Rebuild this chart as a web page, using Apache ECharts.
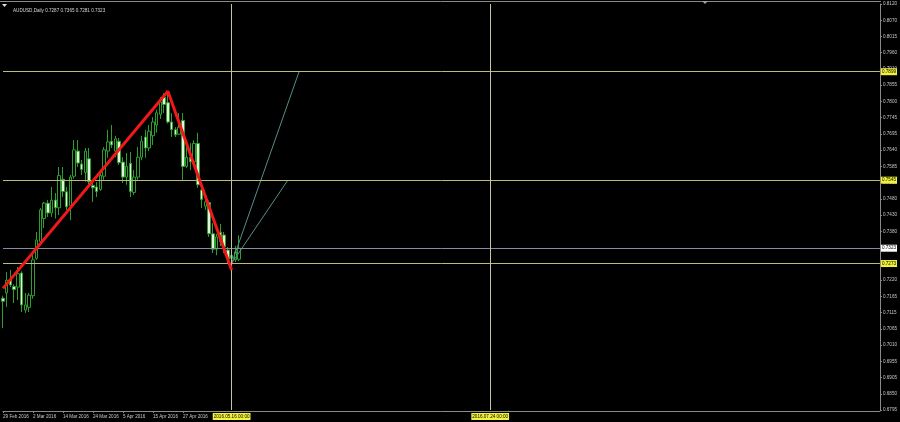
<!DOCTYPE html>
<html><head><meta charset="utf-8">
<script src="https://cdn.jsdelivr.net/npm/echarts/dist/echarts.min.js"></script>
<style>html,body{margin:0;padding:0;background:#000;}#c{width:900px;height:422px;}</style>
</head><body><div id="c"></div>
<script>
// ---- data ----
const dates = ['2016.02.19','2016.02.22','2016.02.23','2016.02.24','2016.02.25','2016.02.26','2016.02.29','2016.03.01','2016.03.02','2016.03.03',
 '2016.03.04','2016.03.07','2016.03.08','2016.03.09','2016.03.10','2016.03.11','2016.03.14','2016.03.15','2016.03.16','2016.03.17',
 '2016.03.18','2016.03.21','2016.03.22','2016.03.23','2016.03.24','2016.03.25','2016.03.28','2016.03.29','2016.03.30','2016.03.31',
 '2016.04.01','2016.04.04','2016.04.05','2016.04.06','2016.04.07','2016.04.08','2016.04.11','2016.04.12','2016.04.13','2016.04.14',
 '2016.04.15','2016.04.18','2016.04.19','2016.04.20','2016.04.21','2016.04.22','2016.04.25','2016.04.26','2016.04.27','2016.04.28',
 '2016.04.29','2016.05.02','2016.05.03','2016.05.04','2016.05.05','2016.05.06','2016.05.09','2016.05.10','2016.05.11','2016.05.12',
 '2016.05.13','2016.05.16','2016.05.17','2016.05.18'];
const open  = [0.7160,0.7177,0.7219,0.7198,0.7196,0.7242,0.7121,0.7130,0.7168,0.7290,
 0.7345,0.7420,0.7470,0.7438,0.7480,0.7455,0.7548,0.7507,0.7462,0.7558,
 0.7640,0.7598,0.7570,0.7615,0.7528,0.7523,0.7515,0.7558,0.7640,0.7672,
 0.7640,0.7672,0.7604,0.7555,0.7600,0.7505,0.7555,0.7620,0.7686,0.7650,
 0.7690,0.7725,0.7760,0.7815,0.7798,0.7735,0.7710,0.7695,0.7740,0.7590,
 0.7620,0.7605,0.7665,0.7513,0.7460,0.7472,0.7370,0.7320,0.7375,0.7366,
 0.7317,0.7290,0.7285,0.7287];
const high  = [0.7168,0.7245,0.7252,0.7205,0.7262,0.7248,0.7177,0.7177,0.7301,0.7376,
 0.7454,0.7474,0.7480,0.7523,0.7503,0.7588,0.7588,0.7523,0.7562,0.7676,
 0.7676,0.7611,0.7650,0.7650,0.7536,0.7539,0.7572,0.7653,0.7709,0.7725,
 0.7690,0.7683,0.7620,0.7634,0.7637,0.7578,0.7653,0.7690,0.7709,0.7725,
 0.7751,0.7775,0.7816,0.7829,0.7835,0.7764,0.7718,0.7764,0.7764,0.7660,
 0.7666,0.7675,0.7700,0.7529,0.7487,0.7478,0.7405,0.7370,0.7402,0.7376,
 0.7327,0.7320,0.7330,0.7365];
const low   = [0.7062,0.7131,0.7196,0.7144,0.7154,0.7115,0.7112,0.7115,0.7158,0.7285,
 0.7333,0.7389,0.7425,0.7425,0.7420,0.7431,0.7490,0.7448,0.7415,0.7550,
 0.7588,0.7562,0.7540,0.7530,0.7474,0.7490,0.7510,0.7546,0.7618,0.7650,
 0.7620,0.7595,0.7536,0.7530,0.7490,0.7497,0.7546,0.7610,0.7618,0.7640,
 0.7660,0.7700,0.7745,0.7764,0.7730,0.7686,0.7686,0.7692,0.7546,0.7585,
 0.7578,0.7600,0.7520,0.7454,0.7448,0.7360,0.7307,0.7300,0.7330,0.7307,
 0.7275,0.7252,0.7278,0.7281];
const close = [0.7150,0.7219,0.7203,0.7188,0.7240,0.7138,0.7138,0.7170,0.7285,0.7350,
 0.7448,0.7470,0.7438,0.7480,0.7455,0.7560,0.7508,0.7458,0.7555,0.7644,
 0.7601,0.7580,0.7640,0.7540,0.7520,0.7508,0.7560,0.7644,0.7670,0.7660,
 0.7680,0.7602,0.7555,0.7590,0.7508,0.7555,0.7620,0.7672,0.7650,0.7705,
 0.7735,0.7765,0.7800,0.7792,0.7735,0.7710,0.7693,0.7718,0.7590,0.7620,
 0.7605,0.7665,0.7530,0.7482,0.7474,0.7370,0.7320,0.7360,0.7345,0.7327,
 0.7288,0.7300,0.7311,0.7323];
// zigzag (bar index, price)
const zigzag = [[0,0.7192],[44,0.7835],[61,0.7252]];
// fan lines from the swing low level
const fanA = [[61,0.7273],[79,0.7899]];
const fanB = [[61,0.7273],[76,0.7545]];
// horizontal levels
const levels = [0.7899,0.7545,0.7273];
const bidPrice = 0.7323;
// vertical lines (bar index) and their labels
const vLines = [61,130];
const vLabels = ['2016.05.16 00:00','2016.07.24 00:00'];
// x tick labels
const xTickIdx = [0,8,16,24,32,40,48];
const xTickLabels = ['29 Feb 2016','2 Mar 2016','14 Mar 2016','24 Mar 2016','5 Apr 2016','15 Apr 2016','27 Apr 2016'];
// y tick labels (bottom to top)
const yTickLabels = ['0.6795','0.6850','0.6905','0.6955','0.7010','0.7065','0.7115','0.7165','0.7220','0.7270','0.7325',
 '0.7380','0.7430','0.7480','0.7535','0.7585','0.7640','0.7695','0.7745','0.7800','0.7855','0.7910','0.7960','0.8015','0.8070','0.8120'];
const yMin = 0.6795, yMax = 0.8120, yStep = 0.0053;
const totalSlots = 235;
const titleText = 'AUDUSD,Daily 0.7287 0.7365 0.7281 0.7323';

// ---- build ----
const cats = dates.concat(Array.from({length: totalSlots - dates.length}, (_, i) => 'f' + (i + 1)));
const ohlc = dates.map((d, i) => [open[i], close[i], low[i], high[i]]);
const FONT = 'Liberation Sans';
const AXC = '#8a8a8a';
const FS = 4.6;

const hLineData = levels.map(v => ({
  yAxis: v,
  lineStyle: {color: '#bcbc78', width: 1, type: 'solid'},
  label: {show: true, position: 'end', distance: 1, formatter: v.toFixed(4), color: '#000',
    backgroundColor: '#f2f23c', padding: [1, 1], fontSize: FS, fontFamily: FONT}
}));
hLineData.push({
  yAxis: bidPrice,
  lineStyle: {color: '#8a8aa0', width: 1, type: 'solid'},
  label: {show: true, position: 'end', distance: 1, formatter: bidPrice.toFixed(4), color: '#000',
    backgroundColor: '#ffffff', padding: [1, 1], fontSize: FS, fontFamily: FONT}
});
vLines.forEach((ix, k) => hLineData.push({
  xAxis: ix,
  lineStyle: {color: '#c4c4a4', width: 1, type: 'solid'},
  label: {show: true, position: 'start', distance: 3, formatter: vLabels[k], color: '#000',
    backgroundColor: '#f2f23c', padding: [1, 1], fontSize: FS, fontFamily: FONT}
}));

const chart = echarts.init(document.getElementById('c'), null, {renderer: 'canvas'});
chart.setOption({
  backgroundColor: '#000',
  animation: false,
  title: {text: titleText, left: 8, top: 3, textStyle: {color: '#d8d8d8', fontSize: FS, fontWeight: 'normal', fontFamily: FONT}},
  grid: {left: 0, right: 19, top: 4, bottom: 12},
  xAxis: {
    type: 'category', data: cats, boundaryGap: false, offset: 1,
    axisLine: {show: true, lineStyle: {color: AXC, width: 1}},
    axisTick: {show: true, length: 2, interval: (i) => xTickIdx.includes(i), lineStyle: {color: AXC}},
    axisLabel: {show: true, interval: (i) => xTickIdx.includes(i), align: 'left', margin: 3,
      formatter: (v, i) => { const k = xTickIdx.indexOf(i); return k >= 0 ? xTickLabels[k] : ''; },
      color: '#c8c8c8', fontSize: FS, fontFamily: FONT},
    splitLine: {show: false}
  },
  yAxis: {
    type: 'value', position: 'right', min: yMin, max: yMax, interval: yStep, scale: true,
    axisLine: {show: true, lineStyle: {color: AXC, width: 1}},
    axisTick: {show: true, length: 2, lineStyle: {color: AXC}},
    axisLabel: {show: true, margin: 3, color: '#c8c8c8', fontSize: FS, fontFamily: FONT,
      formatter: (v) => yTickLabels[Math.round((v - yMin) / yStep)] || ''},
    splitLine: {show: false}
  },
  series: [
    {
      type: 'candlestick', data: ohlc, barWidth: 3,
      itemStyle: {color: '#000000', color0: '#e4f2dc', borderColor: '#2e9e2e', borderColor0: '#2e9e2e', borderWidth: 1},
      markLine: {silent: true, precision: 4, symbol: ['none', 'none'], animation: false, data: hLineData}
    },
    {type: 'line', data: zigzag, symbol: 'none', lineStyle: {color: '#f01818', width: 3}, z: 5},
    {type: 'line', data: fanA, symbol: 'none', lineStyle: {color: '#5a8c8c', width: 1}, z: 4},
    {type: 'line', data: fanB, symbol: 'none', lineStyle: {color: '#5a8c8c', width: 1}, z: 4}
  ],
  graphic: [
    {type: 'line', shape: {x1: 0, y1: 1.5, x2: 881, y2: 1.5}, style: {stroke: AXC, lineWidth: 1}, silent: true},
    {type: 'polygon', shape: {points: [[2, 4], [7, 4], [4.5, 7]]}, style: {fill: '#e0e0e0'}, silent: true},
    {type: 'polygon', shape: {points: [[702, 1], [708, 1], [705, 4]]}, style: {fill: '#a0a0a0'}, silent: true}
  ]
});
</script></body></html>
